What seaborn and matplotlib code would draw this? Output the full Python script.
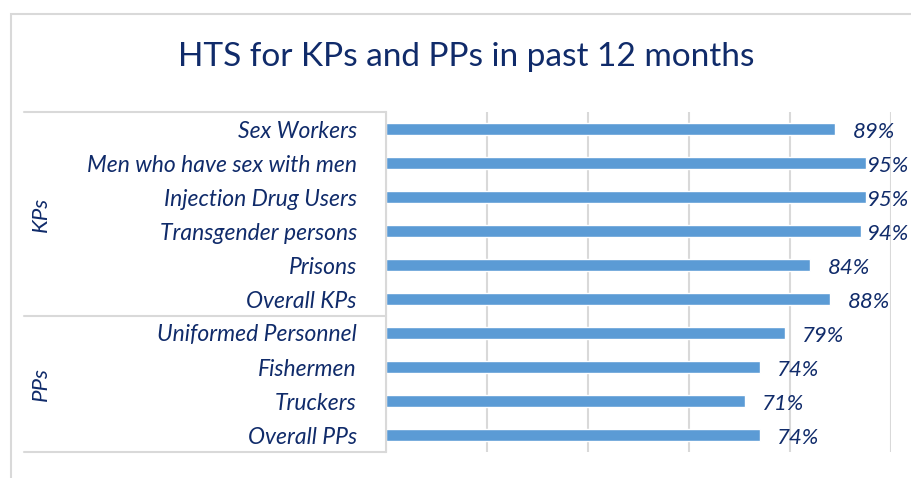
import numpy as np
import pandas as pd
import matplotlib
matplotlib.use('Agg')
import matplotlib.pyplot as plt
import matplotlib.transforms as mtransforms
from matplotlib.patches import Rectangle
import seaborn as sns

categories = ['Sex Workers', 'Men who have sex with men', 'Injection Drug Users',
              'Transgender persons', 'Prisons', 'Overall KPs',
              'Uniformed Personnel', 'Fishermen', 'Truckers', 'Overall PPs']
groups = ['KPs'] * 6 + ['PPs'] * 4
values = [89, 95, 95, 94, 84, 88, 79, 74, 71, 74]
group_names = ['KPs', 'PPs']

df = pd.DataFrame({'category': categories, 'group': groups, 'value': values})

sns.set_theme(style='white')
plt.rcParams['font.family'] = ['Lato', 'DejaVu Sans']

NAVY = '#102B6A'
BAR = '#5B9BD5'
GRID = '#D9D9D9'

fig = plt.figure(figsize=(9.11, 4.78), dpi=100)
ax = fig.add_axes([386 / 911, 1 - 452 / 478, (891 - 386) / 911, (452 - 112) / 478])

sns.barplot(data=df, y='category', x='value', orient='h', color=BAR,
            width=0.37, saturation=1, ax=ax)

ax.set_xlim(0, 100)
ax.set_ylim(len(categories) - 0.5, -0.5)
ax.set_xticks([0, 20, 40, 60, 80, 100])
ax.xaxis.grid(True, color=GRID, linewidth=1.5)
ax.set_axisbelow(True)
ax.tick_params(axis='x', length=0, labelbottom=False)
ax.tick_params(axis='y', length=0, pad=21)
for lab in ax.get_yticklabels():
    lab.set_fontstyle('italic')
    lab.set_fontsize(16.5)
    lab.set_color(NAVY)
ax.set_xlabel('')
ax.set_ylabel('')
for s in ['top', 'right', 'bottom']:
    ax.spines[s].set_visible(False)
ax.spines['left'].set_color(GRID)
ax.spines['left'].set_linewidth(1.5)

# value labels (pushed inward near the right edge, like Excel does)
for i, v in enumerate(values):
    ax.text(min(v + 3.4, 95.2), i + 0.1, f'{v}%', ha='left', va='center',
            fontsize=16, fontstyle='italic', color=NAVY, clip_on=False)

# group separators and labels
trans = mtransforms.blended_transform_factory(fig.transFigure, ax.transData)
bounds = [-0.5, 5.5, 9.5]
for b in bounds:
    ax.plot([24 / 911, 386 / 911], [b, b], transform=trans, color=GRID,
            linewidth=1.5, clip_on=False)
for name, lo, hi in zip(group_names, bounds[:-1], bounds[1:]):
    ax.text(41 / 911, (lo + hi) / 2, name, transform=trans, rotation=90,
            ha='center', va='center', fontsize=16, fontstyle='italic', color=NAVY)

fig.text(466 / 911, 1 - 57 / 478, 'HTS for KPs and PPs in past 12 months',
         ha='center', va='center', fontsize=24, color=NAVY)

fig.patches.append(Rectangle((11 / 911, -0.1), 1.2, 1 - 14 / 478 + 0.1,
                             transform=fig.transFigure, fill=False,
                             edgecolor=GRID, linewidth=1.5))

fig.savefig('out.png', dpi=100)
